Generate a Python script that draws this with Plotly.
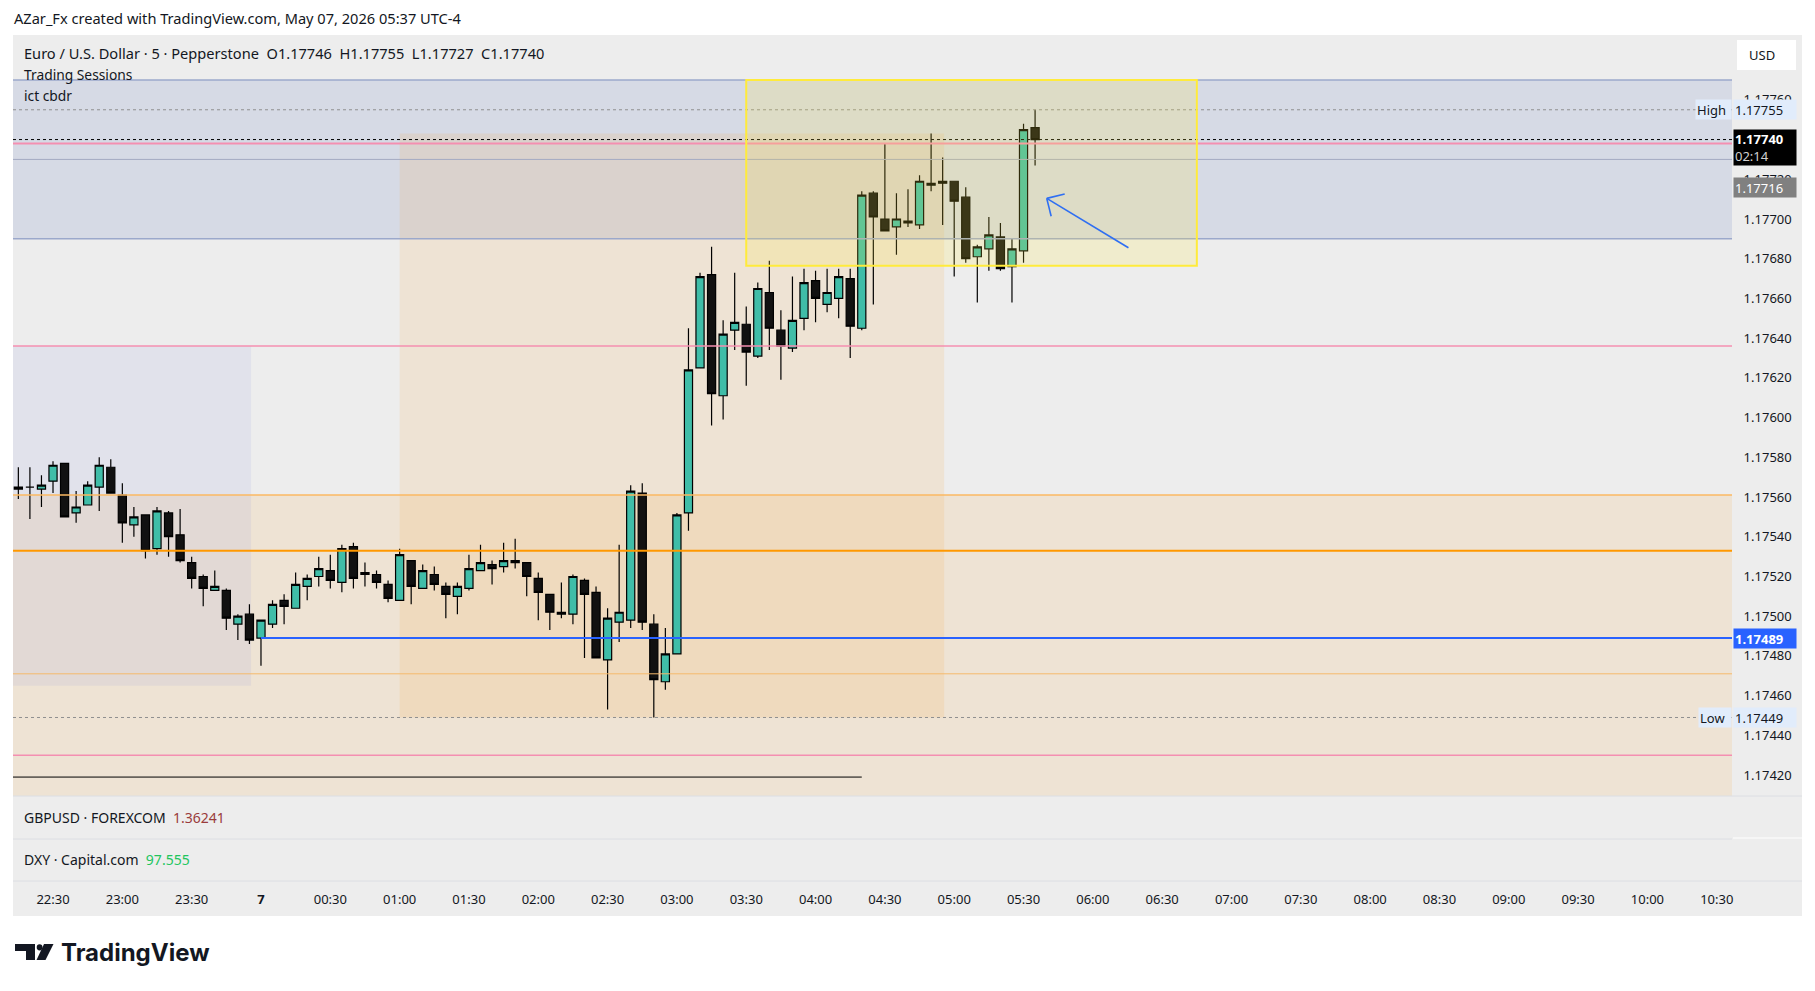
import numpy as np
import pandas as pd
import plotly.graph_objects as go

# the browser puts an 8px body margin round the figure
W, H, OFF = 1799, 975, 8


def px(x):
    return (x - OFF) / W


def py(y):
    return 1 - (y - OFF) / H


# ---- EURUSD 5m candles ----
times = pd.date_range("2026-05-06 22:15", periods=89, freq="5min")
opens = [1.17565, 1.17565, 1.17564, 1.17568, 1.17577, 1.17552, 1.17556, 1.17565, 1.17575, 1.17561,
         1.17546, 1.17551, 1.17534, 1.17552, 1.17541, 1.17527, 1.17520, 1.17513, 1.17513, 1.17496,
         1.17501, 1.17489, 1.17496, 1.17508, 1.17504, 1.17515, 1.17520, 1.17523, 1.17517, 1.17535,
         1.17521, 1.17521, 1.17516, 1.17508, 1.17528, 1.17514, 1.17521, 1.17515, 1.17510, 1.17514,
         1.17523, 1.17526, 1.17525, 1.17527, 1.17527, 1.17519, 1.17511, 1.17501, 1.17501, 1.17518,
         1.17512, 1.17478, 1.17497, 1.17498, 1.17562, 1.17496, 1.17467, 1.17481, 1.17552, 1.17625,
         1.17672, 1.17611, 1.17644, 1.17647, 1.17631, 1.17663, 1.17644, 1.17635, 1.17650, 1.17669,
         1.17657, 1.17660, 1.17670, 1.17645, 1.17713, 1.17700, 1.17696, 1.17699, 1.17697, 1.17717,
         1.17719, 1.17719, 1.17711, 1.17681, 1.17685, 1.17691, 1.17676, 1.17684, 1.17746]
highs = [1.17575, 1.17575, 1.17571, 1.17578, 1.17577, 1.17563, 1.17568, 1.17580, 1.17579, 1.17567,
         1.17555, 1.17551, 1.17555, 1.17553, 1.17554, 1.17530, 1.17521, 1.17523, 1.17514, 1.17501,
         1.17506, 1.17498, 1.17508, 1.17511, 1.17522, 1.17521, 1.17530, 1.17531, 1.17536, 1.17537,
         1.17527, 1.17523, 1.17518, 1.17534, 1.17528, 1.17526, 1.17525, 1.17517, 1.17517, 1.17531,
         1.17536, 1.17528, 1.17537, 1.17539, 1.17527, 1.17522, 1.17511, 1.17517, 1.17521, 1.17519,
         1.17515, 1.17504, 1.17536, 1.17566, 1.17567, 1.17501, 1.17494, 1.17552, 1.17645, 1.17673,
         1.17686, 1.17649, 1.17673, 1.17656, 1.17668, 1.17679, 1.17654, 1.17671, 1.17675, 1.17674,
         1.17675, 1.17675, 1.17675, 1.17714, 1.17714, 1.17738, 1.17713, 1.17715, 1.17722, 1.17743,
         1.17731, 1.17719, 1.17716, 1.17687, 1.17701, 1.17698, 1.17690, 1.17748, 1.17755]
lows = [1.17559, 1.17549, 1.17555, 1.17562, 1.17550, 1.17547, 1.17556, 1.17553, 1.17562, 1.17537,
        1.17540, 1.17529, 1.17531, 1.17530, 1.17527, 1.17514, 1.17505, 1.17513, 1.17493, 1.17488,
        1.17486, 1.17475, 1.17494, 1.17496, 1.17504, 1.17508, 1.17515, 1.17514, 1.17512, 1.17514,
        1.17515, 1.17514, 1.17507, 1.17508, 1.17506, 1.17514, 1.17513, 1.17499, 1.17501, 1.17513,
        1.17523, 1.17516, 1.17522, 1.17524, 1.17510, 1.17498, 1.17493, 1.17499, 1.17496, 1.17479,
        1.17479, 1.17453, 1.17487, 1.17494, 1.17493, 1.17449, 1.17463, 1.17481, 1.17543, 1.17625,
        1.17596, 1.17599, 1.17634, 1.17616, 1.17630, 1.17634, 1.17619, 1.17633, 1.17644, 1.17648,
        1.17653, 1.17650, 1.17630, 1.17644, 1.17657, 1.17694, 1.17682, 1.17696, 1.17695, 1.17714,
        1.17697, 1.17671, 1.17678, 1.17658, 1.17674, 1.17674, 1.17658, 1.17678, 1.17727]
closes = [1.17564, 1.17565, 1.17566, 1.17576, 1.17550, 1.17555, 1.17566, 1.17576, 1.17562, 1.17547,
          1.17550, 1.17533, 1.17553, 1.17540, 1.17528, 1.17519, 1.17514, 1.17515, 1.17499, 1.17500,
          1.17488, 1.17498, 1.17506, 1.17505, 1.17516, 1.17519, 1.17524, 1.17518, 1.17534, 1.17519,
          1.17522, 1.17517, 1.17509, 1.17531, 1.17515, 1.17523, 1.17516, 1.17511, 1.17515, 1.17524,
          1.17527, 1.17524, 1.17528, 1.17528, 1.17520, 1.17512, 1.17502, 1.17502, 1.17520, 1.17511,
          1.17479, 1.17499, 1.17502, 1.17563, 1.17497, 1.17468, 1.17481, 1.17551, 1.17624, 1.17671,
          1.17612, 1.17642, 1.17648, 1.17633, 1.17665, 1.17645, 1.17636, 1.17649, 1.17668, 1.17660,
          1.17663, 1.17671, 1.17646, 1.17712, 1.17701, 1.17694, 1.17700, 1.17698, 1.17719, 1.17718,
          1.17718, 1.17709, 1.17680, 1.17686, 1.17692, 1.17675, 1.17685, 1.17745, 1.17740]

# ---- axis ticks ----
price_ticks = [1.17420, 1.17440, 1.17460, 1.17480, 1.17500, 1.17520, 1.17540, 1.17560, 1.17580,
               1.17600, 1.17620, 1.17640, 1.17660, 1.17680, 1.17700, 1.17720, 1.17760]
time_ticks = ["2026-05-06 22:30", "2026-05-06 23:00", "2026-05-06 23:30", "2026-05-07 00:00",
              "2026-05-07 00:30", "2026-05-07 01:00", "2026-05-07 01:30", "2026-05-07 02:00",
              "2026-05-07 02:30", "2026-05-07 03:00", "2026-05-07 03:30", "2026-05-07 04:00",
              "2026-05-07 04:30", "2026-05-07 05:00", "2026-05-07 05:30", "2026-05-07 06:00",
              "2026-05-07 06:30", "2026-05-07 07:00", "2026-05-07 07:30", "2026-05-07 08:00",
              "2026-05-07 08:30", "2026-05-07 09:00", "2026-05-07 09:30", "2026-05-07 10:00",
              "2026-05-07 10:30"]
time_labels = ["22:30", "23:00", "23:30", "<b>7</b>", "00:30", "01:00", "01:30", "02:00", "02:30",
               "03:00", "03:30", "04:00", "04:30", "05:00", "05:30", "06:00", "06:30", "07:00",
               "07:30", "08:00", "08:30", "09:00", "09:30", "10:00", "10:30"]

# ---- indicator levels / zones ----
cbdr_zone = (1.17690, 1.17770)           # ict cbdr box
cbdr_mid = 1.17730
pink_levels = [1.17738, 1.17636, 1.17430]
asia_box = ("2026-05-06 22:00", "2026-05-06 23:55:42", 1.17465, 1.17636)
london_box = ("2026-05-07 01:00", "2026-05-07 04:55:40", 1.17449, 1.17743)
yellow_box = ("2026-05-07 03:30", "2026-05-07 06:45", 1.176765, 1.17770)
peach_top = 1.17561
orange_level = 1.17533
orange_light = 1.17471
blue_level = 1.17489
blue_start = "2026-05-07 00:00"
black_level = 1.17419
black_end = "2026-05-07 04:20"
last_close = 1.17740
day_high, day_low = 1.17755, 1.17449
gray_tag = 1.17716
arrow_head = ("2026-05-07 05:40:03", 1.177104)
arrow_tail = ("2026-05-07 06:15:24", 1.176855)

x_range = [pd.Timestamp("2026-05-06 22:12:41"), pd.Timestamp("2026-05-07 10:36:36")]
y_range = [1.1740947, 1.1779265]

PL, PR, PT, PB = 13, 1732, 35, 796     # main pane in page pixels
FONT = "Noto Sans, Roboto, sans-serif"
TXT = "#131722"

fig = go.Figure()
fig.add_trace(go.Candlestick(
    x=times, open=opens, high=highs, low=lows, close=closes,
    increasing=dict(fillcolor="#40bda8", line=dict(color="#000000", width=1.2)),
    decreasing=dict(fillcolor="#111111", line=dict(color="#000000", width=1.2)),
    hoverinfo="skip", showlegend=False,
))

shapes = []
# frame background
shapes.append(dict(type="rect", xref="paper", yref="paper", x0=px(13), x1=px(1802), y0=py(916), y1=py(35),
                   fillcolor="#ededed", line_width=0, layer="below"))


def hline(y, color, width=1, dash="solid", x0=None, x1=None):
    shapes.append(dict(type="line", xref="x", yref="y", x0=x0 or x_range[0], x1=x1 or x_range[1],
                       y0=y, y1=y, line=dict(color=color, width=width, dash=dash), layer="above"))


def zone(x0, x1, y0, y1, fill, line=None, lw=0):
    shapes.append(dict(type="rect", xref="x", yref="y", x0=x0, x1=x1, y0=y0, y1=y1,
                       fillcolor=fill, line=dict(color=line or "rgba(0,0,0,0)", width=lw), layer="below"))


zone("2026-05-06 22:00", "2026-05-07 12:00", 1.1730, peach_top, "rgba(255,152,0,0.10)")
zone("2026-05-06 22:00", "2026-05-07 12:00", cbdr_zone[0], cbdr_zone[1], "rgba(100,125,190,0.17)")
zone(asia_box[0], asia_box[1], asia_box[2], asia_box[3], "rgba(130,140,230,0.10)")
zone(london_box[0], london_box[1], london_box[2], london_box[3], "rgba(255,152,0,0.10)")

hline(cbdr_zone[1], "#9ba8cb", 1.5)
hline(cbdr_zone[0], "#9ba8cb", 1.5)
hline(cbdr_mid, "#a3aac2", 1)
hline(day_high, "#8f8f8f", 1, "dot")
hline(pink_levels[0], "#f48fb1", 2)
hline(last_close, "#000000", 1, "dot")
hline(pink_levels[1], "#f48fb1", 1.5)
hline(peach_top, "#fbb862", 1.5)
hline(orange_level, "#ff9800", 2)
hline(blue_level, "#2962ff", 2, x0=blue_start)
hline(orange_light, "#f6b96b", 1)
hline(day_low, "#8f8f8f", 1, "dot")
hline(pink_levels[2], "#f48fb1", 1.5)
hline(black_level, "#000000", 1, x1=black_end)

# yellow rectangle drawing
shapes.append(dict(type="rect", xref="x", yref="y", x0=yellow_box[0], x1=yellow_box[1],
                   y0=yellow_box[2], y1=yellow_box[3], fillcolor="rgba(255,235,59,0.18)",
                   line=dict(color="#ffeb3b", width=2), layer="above"))

# blue arrow drawing (shaft + open head)
px_per_min = (PR - PL) / ((x_range[1] - x_range[0]).total_seconds() / 60)
px_per_price = (PB - PT) / (y_range[1] - y_range[0])
hx, hy = pd.Timestamp(arrow_head[0]), arrow_head[1]
tx, ty = pd.Timestamp(arrow_tail[0]), arrow_tail[1]
dx = (tx - hx).total_seconds() / 60 * px_per_min
dy = -(ty - hy) * px_per_price
ang = np.arctan2(dy, dx)
arrow_lines = [(tx, ty)]
for s in (-1, 1):
    a = ang + s * np.pi / 4
    wx = hx + pd.Timedelta(minutes=18.5 * np.cos(a) / px_per_min)
    wy = hy - 18.5 * np.sin(a) / px_per_price
    arrow_lines.append((wx, wy))
for ex, ey in arrow_lines:
    shapes.append(dict(type="line", xref="x", yref="y", x0=hx, y0=hy, x1=ex, y1=ey,
                       line=dict(color="#2f6ff2", width=1.6), layer="above"))

# pane separators
for y, x0, x1, c in [(796, 13, 1802, "#dcdee3"), (839, 13, 1732, "#dcdee3"),
                     (838, 1733, 1802, "#ffffff"), (881, 13, 1802, "#dcdee3")]:
    shapes.append(dict(type="line", xref="paper", yref="paper", x0=px(x0), x1=px(x1), y0=py(y), y1=py(y),
                       line=dict(color=c, width=1), layer="above"))

# USD button
shapes.append(dict(type="rect", xref="paper", yref="paper", x0=px(1737), x1=px(1796), y0=py(70), y1=py(40),
                   fillcolor="#ffffff", line=dict(color="#ffffff", width=0), layer="above"))

# TradingView logo
shapes.append(dict(type="rect", xref="paper", yref="paper", x0=px(15), x1=px(35), y0=py(951), y1=py(944),
                   fillcolor="#131722", line_width=0))
shapes.append(dict(type="rect", xref="paper", yref="paper", x0=px(26), x1=px(35), y0=py(960), y1=py(944),
                   fillcolor="#131722", line_width=0))
shapes.append(dict(type="circle", xref="paper", yref="paper", x0=px(36.7), x1=px(42.5), y0=py(950.5),
                   y1=py(944.2), fillcolor="#131722", line_width=0))
shapes.append(dict(type="path", xref="paper", yref="paper",
                   path="M {},{} L {},{} L {},{} L {},{} Z".format(px(44), py(944), px(53.5), py(944),
                                                                  px(45.5), py(960), px(36.5), py(960)),
                   fillcolor="#131722", line_width=0))

annotations = []


def page_text(x, y, text, size=14, color=TXT, family=FONT):
    annotations.append(dict(xref="paper", yref="paper", x=px(x), y=py(y), text=text, showarrow=False,
                            xanchor="left", yanchor="middle", borderpad=0,
                            font=dict(size=size, color=color, family=family)))


SP = "\u00a0\u00a0"
page_text(13, 18, "AZar_Fx created with TradingView.com, May 07, 2026 05:37 UTC-4", 14.6)
page_text(23, 53, "Euro / U.S. Dollar · 5 · Pepperstone" + SP + "O1.17746" + SP + "H1.17755" + SP
          + "L1.17727" + SP + "C1.17740", 14.6)
page_text(23, 74, "Trading Sessions", 13.8)
page_text(23, 95, "ict cbdr", 13.8)
page_text(23, 817, "GBPUSD · FOREXCOM" + SP + "<span style='color:#9a3b3b'>1.36241</span>", 14)
page_text(23, 859, "DXY · Capital.com" + SP + "<span style='color:#22c55e'>97.555</span>", 14)
page_text(1748, 55, "USD", 13)
page_text(60, 952, "<b>TradingView</b>", 24, "#131722", "Inter, Roboto, sans-serif")


def price_tag(y, text, bg, color="#ffffff", x=1733, w=60, h=17):
    annotations.append(dict(xref="paper", yref="y", x=px(x), y=y, text=text, showarrow=False,
                            xanchor="left", yanchor="middle", align="left", bgcolor=bg, width=w, height=h,
                            borderpad=1, font=dict(size=13, color=color, family=FONT)))


price_tag(day_high, "1.17755", "#e1ecfb", TXT)
price_tag(day_high, "High", "#e1ecfb", TXT, x=1695, w=33)
price_tag(last_close - 0.00004, "<b>1.17740</b><br><span style='color:#d0d0d0'>02:14</span>", "#000000", h=33)
price_tag(gray_tag, "1.17716", "#808080")
price_tag(blue_level, "<b>1.17489</b>", "#2962ff")
price_tag(day_low, "1.17449", "#e1ecfb", TXT)
price_tag(day_low, "Low", "#e1ecfb", TXT, x=1698, w=30)

fig.update_layout(
    width=W, height=H, margin=dict(l=0, r=0, t=0, b=0),
    paper_bgcolor="#ffffff", plot_bgcolor="#ededed",
    font=dict(family=FONT, size=13, color=TXT),
    showlegend=False, boxgap=0.2, boxgroupgap=0.12,
    shapes=shapes, annotations=annotations,
    xaxis=dict(domain=[px(PL), px(PR)], range=x_range, type="date", rangeslider=dict(visible=False),
               anchor="free", position=py(881), tickvals=time_ticks, ticktext=time_labels,
               ticks="outside", ticklen=6, tickcolor="rgba(0,0,0,0)", showgrid=False, zeroline=False,
               showline=False, tickfont=dict(size=13, color=TXT)),
    yaxis=dict(domain=[py(PB), py(PT)], range=y_range, side="right", tickvals=price_ticks,
               ticktext=["%.5f" % v for v in price_ticks], ticks="outside", ticklen=8,
               tickcolor="rgba(0,0,0,0)", showgrid=False, zeroline=False, showline=False,
               tickfont=dict(size=13, color=TXT)),
)

fig.write_html("out.html")
